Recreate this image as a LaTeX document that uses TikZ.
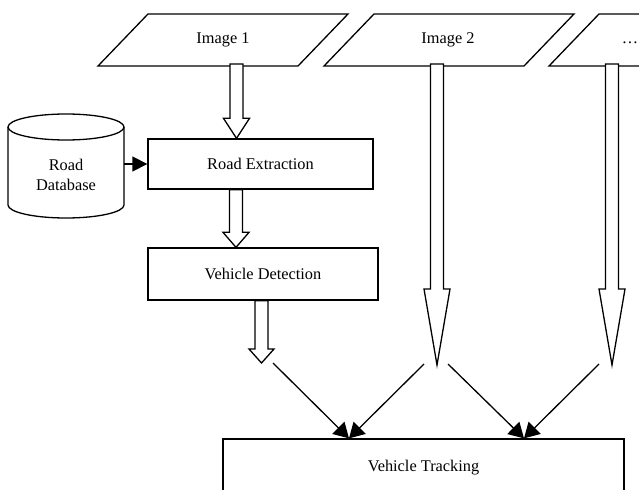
\documentclass[tikz,border=0pt]{standalone}
\usepackage{fontspec}
\setmainfont{Liberation Serif}
\usetikzlibrary{arrows.meta,calc}
\newcommand\blkarr[4]{%
  \draw[blkarrow] ($(#1)+(-6.5,0)$) -- ($(#2)+(-6.5,#3)$) -- ($(#2)+(-#4,#3)$) -- (#2)
    -- ($(#2)+(#4,#3)$) -- ($(#2)+(6.5,#3)$) -- ($(#1)+(6.5,0)$) -- cycle;}
\begin{document}
\begin{tikzpicture}[x=1bp,y=1bp,line width=1.3bp,
  txt/.style={font=\fontsize{16.4}{20}\selectfont, inner sep=0pt},
  procbox/.style={draw, rectangle, inner sep=0pt, font=\fontsize{16.4}{20}\selectfont},
  blkarrow/.style={draw, fill=white, line join=miter},
  con/.style={-{Triangle[length=15bp,width=17bp]}},
  con2/.style={-{Triangle[length=15bp,width=15bp]}}]
\useasboundingbox (0,0) rectangle (639,-490);

% input images (parallelograms)
\draw (98,-66) -- (148,-14) -- (348,-14) -- (298,-66) -- cycle;
\draw (324,-66) -- (374,-14) -- (574,-14) -- (524,-66) -- cycle;
\draw (549,-66) -- (599,-14) -- (799,-14) -- (749,-66) -- cycle;
\node[txt, anchor=base] (img1) at (223,-44) {Image 1};
\node[txt, anchor=base] (img2) at (448,-44) {Image 2};
\node[txt, anchor=base] (img3) at (630,-44) {\ldots};

% database
\draw (66,-127) ellipse [x radius=58, y radius=13];
\draw (8,-127) -- (8,-205) arc[start angle=180, end angle=360, x radius=58, y radius=13] -- (124,-127);
\node[txt, align=center] (db) at (66,-175) {Road\\Database};
\coordinate (dbE) at (124,-164);

% process boxes
\node[procbox, minimum width=225bp, minimum height=50bp] (re) at (260.5,-164) {Road Extraction};
\node[procbox, minimum width=230bp, minimum height=52bp] (vd) at (263,-274) {Vehicle Detection};
\node[procbox, minimum width=401bp, minimum height=58bp] (vt) at (423.5,-468) {Vehicle Tracking};

\draw[con2] (dbE) -- (re.west);

% block arrows
\coordinate (a1s) at (236.5,-64);
\coordinate (a1e) at (a1s |- re.north);
\blkarr{a1s}{a1e}{20}{13}
\coordinate (a2s) at ([xshift=-24.5bp]re.south);
\coordinate (a2e) at (a2s |- vd.north);
\blkarr{a2s}{a2e}{15}{13}
\coordinate (a3s) at ([xshift=-1.5bp]vd.south);
\coordinate (a3e) at (261.5,-363);
\blkarr{a3s}{a3e}{14}{12.5}
\coordinate (a4s) at (437,-64);
\coordinate (a4e) at (437,-365);
\blkarr{a4s}{a4e}{76}{13}
\coordinate (a5s) at (612,-64);
\coordinate (a5e) at (612,-365);
\blkarr{a5s}{a5e}{76}{13}

% connectors to tracking
\coordinate (d1) at (273,-363);
\coordinate (d2) at (424,-364);
\coordinate (d3) at (448,-364);
\coordinate (d4) at (599,-364);
\coordinate (t1) at ([xshift=-74.5bp]vt.north);
\coordinate (t2) at ([xshift=100.5bp]vt.north);
\draw[con] (d1) -- (t1);
\draw[con] (d2) -- (t1);
\draw[con] (d3) -- (t2);
\draw[con] (d4) -- (t2);
\end{tikzpicture}
\end{document}
